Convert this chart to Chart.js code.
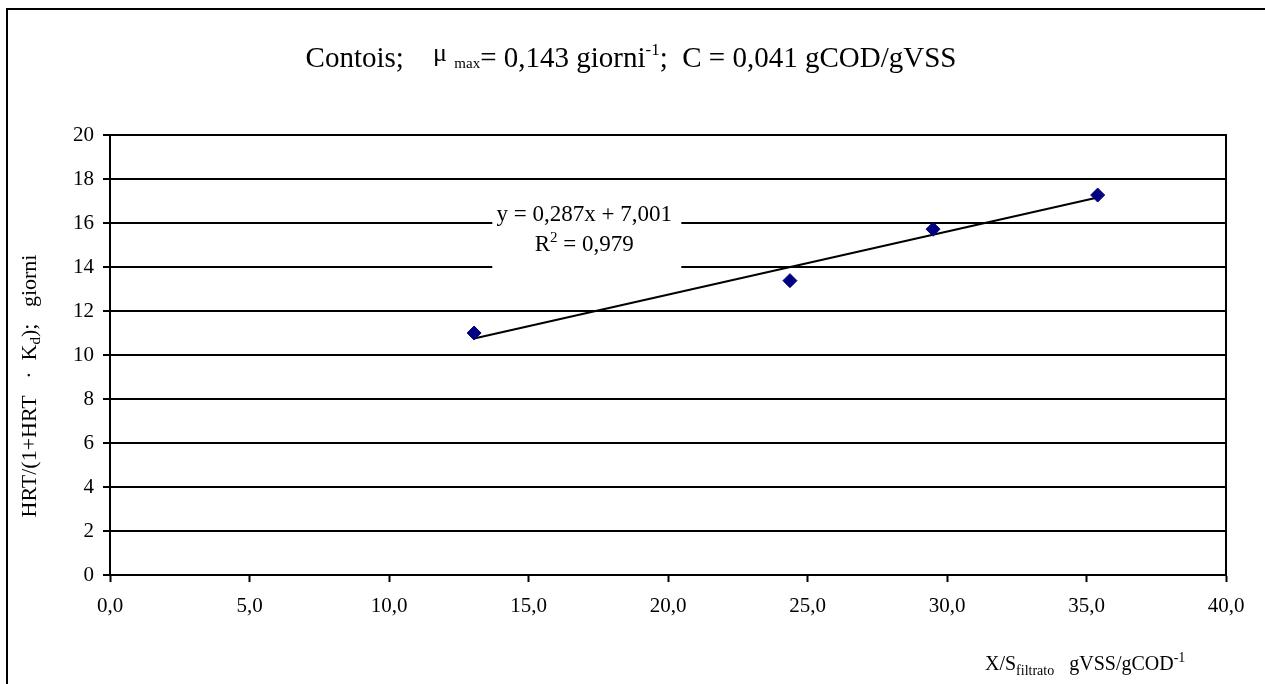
<!DOCTYPE html>
<html>
<head>
<meta charset="utf-8">
<script src="https://cdn.jsdelivr.net/npm/chart.js@4/dist/chart.umd.min.js"></script>
<style>
  html, body { margin: 0; padding: 0; background: #fff; }
  canvas { display: block; }
</style>
</head>
<body>
<canvas id="contoisChart" width="1265" height="684"></canvas>
<script>
// X/S filtrato (gVSS/gCOD) against HRT/(1+HRT*Kd) (giorni)
const xsRatio = [13.05, 24.37, 29.5, 35.4];
const hrtTerm = [11.0, 13.38, 15.72, 17.27];

// linear fit printed on the chart
const fitSlope = 0.287;
const fitIntercept = 7.001;
const fitR2 = 0.979;

// axis ranges
const xRange = [0, 40, 5];
const yRange = [0, 20, 2];

const serif = '"Liberation Serif", "Times New Roman", serif';
const comma = (v, d) => v.toFixed(d).replace('.', ',');

// trend line only spans the measured points
const xMin = Math.min(...xsRatio);
const xMax = Math.max(...xsRatio);
const trend = [xMin, xMax].map(x => ({ x: x, y: fitSlope * x + fitIntercept }));

// draws a run of text pieces (sub/superscripts) centred on x
function drawRuns(ctx, runs, x, y, align) {
    let total = 0;
    runs.forEach(r => {
        ctx.font = r[1] + 'px ' + serif;
        total += ctx.measureText(r[0]).width;
    });
    let cx = align === 'left' ? x : x - total / 2;
    runs.forEach(r => {
        ctx.font = r[1] + 'px ' + serif;
        ctx.fillText(r[0], cx, y + (r[2] || 0));
        cx += ctx.measureText(r[0]).width;
    });
}

const decorations = {
    id: 'decorations',
    afterDraw(chart) {
        const ctx = chart.ctx;
        const area = chart.chartArea;
        const xs = chart.scales.x;
        const ys = chart.scales.y;
        ctx.save();

        // plot frame
        ctx.strokeStyle = '#000';
        ctx.lineWidth = 2;
        ctx.strokeRect(area.left, area.top, area.right - area.left, area.bottom - area.top);

        // outer frame (left and top edges)
        ctx.beginPath();
        ctx.moveTo(7, chart.height);
        ctx.lineTo(7, 9);
        ctx.lineTo(chart.width, 9);
        ctx.stroke();

        ctx.fillStyle = '#000';
        ctx.textBaseline = 'alphabetic';
        ctx.textAlign = 'left';

        // title
        drawRuns(ctx, [
            ['Contois;    ', 29],
            ['\u03bc', 26, -6],
            ['  max', 15, 1],
            ['= 0,143 giorni', 29],
            ['-1', 17, -12],
            [';  C = 0,041 gCOD/gVSS', 29]
        ], 631, 67);

        // equation box
        const ex = xs.getPixelForValue(17.0);
        const ey = ys.getPixelForValue(15.5);
        ctx.fillStyle = '#fff';
        ctx.fillRect(ex - 92, ey - 40, 189, 80);
        ctx.fillStyle = '#000';
        drawRuns(ctx, [['y = ' + comma(fitSlope, 3) + 'x + ' + comma(fitIntercept, 3), 23]], ex, ey - 13);
        drawRuns(ctx, [['R', 23], ['2', 15, -9], [' = ' + comma(fitR2, 3), 23]], ex, ey + 17);

        // y axis title
        ctx.save();
        ctx.translate(36, 386);
        ctx.rotate(-Math.PI / 2);
        drawRuns(ctx, [
            ['HRT/(1+HRT   \u00b7  K', 22],
            ['d', 15, 4],
            [');   giorni', 22]
        ], 0, 0);
        ctx.restore();

        // x axis title
        drawRuns(ctx, [
            ['X/S', 20],
            ['filtrato', 14, 5],
            ['   gVSS/gCOD', 20],
            ['-1', 14, -8]
        ], 985, 670, 'left');

        ctx.restore();
    }
};

new Chart(document.getElementById('contoisChart'), {
    type: 'scatter',
    data: {
        datasets: [
            {
                label: 'trend',
                type: 'line',
                data: trend,
                borderColor: '#000',
                borderWidth: 2,
                pointRadius: 0,
                fill: false,
                order: 2
            },
            {
                label: 'dati',
                data: xsRatio.map((x, i) => ({ x: x, y: hrtTerm[i] })),
                pointStyle: 'rectRot',
                pointRadius: 7,
                pointHoverRadius: 7,
                backgroundColor: '#000080',
                borderColor: '#000080',
                borderWidth: 1,
                order: 1
            }
        ]
    },
    options: {
        responsive: false,
        animation: false,
        devicePixelRatio: 1,
        layout: { padding: { left: 0, top: 135, right: 39, bottom: 59 } },
        plugins: {
            legend: { display: false },
            tooltip: { enabled: false }
        },
        scales: {
            x: {
                type: 'linear',
                min: xRange[0],
                max: xRange[1],
                afterFit: s => { s.height = 50; },
                ticks: {
                    stepSize: xRange[2],
                    color: '#000',
                    padding: 12,
                    maxRotation: 0,
                    font: { family: serif, size: 21 },
                    callback: v => comma(v, 1)
                },
                grid: {
                    drawOnChartArea: false,
                    tickLength: 7,
                    tickColor: '#000',
                    tickWidth: 2
                },
                border: { color: '#000', width: 2 }
            },
            y: {
                type: 'linear',
                min: yRange[0],
                max: yRange[1],
                afterFit: s => { s.width = 110; },
                ticks: {
                    stepSize: yRange[2],
                    color: '#000',
                    padding: 9,
                    font: { family: serif, size: 21 }
                },
                grid: {
                    color: '#000',
                    lineWidth: 2,
                    tickLength: 7,
                    tickColor: '#000',
                    tickWidth: 2
                },
                border: { color: '#000', width: 2 }
            }
        }
    },
    plugins: [decorations]
});
</script>
</body>
</html>
